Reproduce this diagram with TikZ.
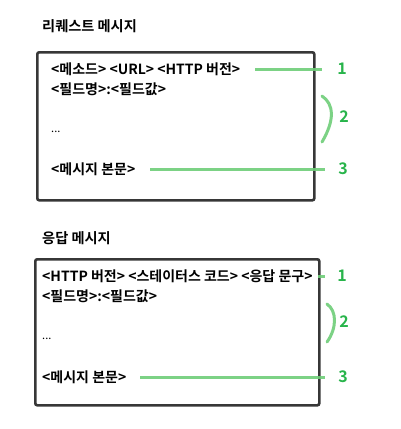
\documentclass[tikz,border=0pt]{standalone}
\usepackage{fontspec}
\setmainfont{Noto Sans CJK KR}[BoldFont={* Bold}]
\definecolor{boxgray}{RGB}{55,55,55}
\definecolor{lightgreen}{RGB}{110,205,120}
\definecolor{numgreen}{RGB}{40,180,75}
\tikzset{
  msgbox/.style={draw=boxgray, line width=2.6pt, rounded corners=2pt},
  ttl/.style={anchor=west, inner sep=0pt, font=\bfseries\fontsize{14.2}{16}\selectfont},
  ln/.style={anchor=west, inner sep=0pt, font=\bfseries\fontsize{14}{16}\selectfont},
  dots/.style={anchor=west, inner sep=0pt, font=\fontsize{11}{13}\selectfont},
  num/.style={anchor=center, inner sep=0pt, text=numgreen, font=\bfseries\fontsize{16}{18}\selectfont},
  gline/.style={draw=lightgreen, line width=3pt, opacity=0.9},
}
\begin{document}
\begin{tikzpicture}[x=1pt,y=-1pt]
\useasboundingbox (0,0) rectangle (400,429);
% ---------- request ----------
\node[ttl] (t1) at (42,26) {리퀘스트 메시지};
\node[msgbox, minimum width=277pt, minimum height=148pt, anchor=north west] (b1) at (36,51) {};
\node[ln] (r1) at (51,69) {<메소드> <URL> <HTTP 버전>};
\node[ln] (r2) at (51,89) {<필드명>:<필드값>};
\node[dots] (r3) at (51,132) {...};
\node[ln] (r4) at (51,169) {<메시지 본문>};
\node[num] (n1) at (342,69) {1};
\node[num] (n2) at (344,117) {2};
\node[num] (n3) at (343,169) {3};
\coordinate (a1s) at (255,69); \coordinate (a1e) at (322,69);
\coordinate (a3s) at (150,169); \coordinate (a3e) at (325,169);
\coordinate (br1a) at (322,96); \coordinate (br1b) at (322,142);
\draw[gline] (a1s) -- (a1e);
\draw[gline] (a3s) -- (a3e);
\draw[gline, line cap=round] (br1a) .. controls (334,104) and (335,120) .. (br1b);
% ---------- response ----------
\node[ttl] (t2) at (42,238) {응답 메시지};
\node[msgbox, minimum width=284pt, minimum height=146pt, anchor=north west] (b2) at (34,258) {};
\node[ln] (s1) at (42,276) {<HTTP 버전> <스테이터스 코드> <응답 문구>};
\node[ln] (s2) at (42,296) {<필드명>:<필드값>};
\node[dots] (s3) at (42,339) {...};
\node[ln] (s4) at (42,377) {<메시지 본문>};
\node[num] (m1) at (342,276) {1};
\node[num] (m2) at (344,322) {2};
\node[num] (m3) at (343,377) {3};
\coordinate (c1s) at (318,276); \coordinate (c1e) at (325,276);
\coordinate (c3s) at (140,377); \coordinate (c3e) at (325,377);
\coordinate (br2a) at (327,304); \coordinate (br2b) at (327,342);
\draw[gline] (c1s) -- (c1e);
\draw[gline] (c3s) -- (c3e);
\draw[gline, line cap=round] (br2a) .. controls (337,311) and (337,328) .. (br2b);
\end{tikzpicture}
\end{document}
